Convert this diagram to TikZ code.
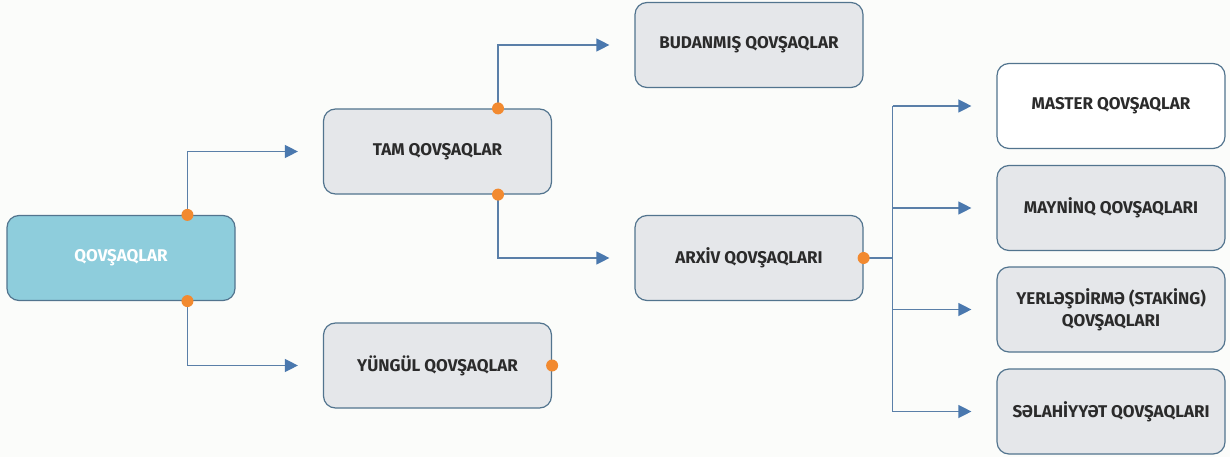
\documentclass[tikz,border=0pt]{standalone}
\usepackage{fontspec}
\setmainfont{Fira Sans}
\usetikzlibrary{arrows.meta,calc}
\definecolor{bgc}{HTML}{FBFCFA}
\definecolor{boxgray}{HTML}{E5E7EA}
\definecolor{boxline}{HTML}{52748E}
\definecolor{rootfill}{HTML}{8ECDDC}
\definecolor{linkc}{HTML}{5A7FA8}
\definecolor{tipc}{HTML}{4A78AE}
\definecolor{dotc}{HTML}{F28A30}
\definecolor{txt}{HTML}{2B2B2B}
\tikzset{
  box/.style={draw=boxline, line width=1.2pt, rounded corners=12pt, fill=boxgray,
    minimum width=228pt, minimum height=85pt, inner sep=0pt, align=center,
    text=txt, font=\fontsize{17}{22}\selectfont\bfseries},
  rootbox/.style={box, fill=rootfill, text=white},
  whitebox/.style={box, fill=white},
  link/.style={draw=linkc, line width=1.3pt},
  arrowlink/.style={link, -{Triangle[length=13pt,width=13pt,fill=tipc,color=tipc]}, shorten >=25pt},
  joint/.style={circle, fill=dotc, minimum size=12pt, inner sep=0pt},
}
\begin{document}
\begin{tikzpicture}[x=1pt,y=-1pt]
\useasboundingbox[fill=bgc] (0,0) rectangle (1230,457);

% boxes
\node[rootbox] (root) at (121,258) {QOVŞAQLAR};
\node[box] (tam) at (437.5,151.5) {TAM QOVŞAQLAR};
\node[box] (yungul) at (437.5,365.5) {YÜNGÜL QOVŞAQLAR};
\node[box] (budan) at (749,45) {BUDANMIŞ QOVŞAQLAR};
\node[box] (arxiv) at (749,258) {ARXİV QOVŞAQLARI};
\node[whitebox] (master) at (1111,106) {MASTER QOVŞAQLAR};
\node[box] (mayninq) at (1111,208) {MAYNİNQ QOVŞAQLARI};
\node[box] (yerles) at (1111,309.5) {YERLƏŞDİRMƏ (STAKİNG)\\QOVŞAQLARI};
\node[box] (selah) at (1111,411.5) {SƏLAHİYYƏT QOVŞAQLARI};

% connection points
\coordinate (rtop) at ($(root.north west)!0.79!(root.north east)$);
\coordinate (rbot) at ($(root.south west)!0.79!(root.south east)$);
\coordinate (ttop) at ($(tam.north west)!0.764!(tam.north east)$);
\coordinate (tbot) at ($(tam.south west)!0.764!(tam.south east)$);
\coordinate (bus) at ($(arxiv.east)+(29,0)$);

% connectors
\draw[arrowlink] (rtop) |- (tam.west);
\draw[arrowlink] (rbot) |- (yungul.west);
\draw[arrowlink] (ttop) |- (budan.west);
\draw[arrowlink] (tbot) |- (arxiv.west);
\draw[link] (arxiv.east) -- (bus);
\draw[link] (bus |- master.west) -- (bus |- selah.west);
\draw[arrowlink] (bus |- master.west) -- (master.west);
\draw[arrowlink] (bus |- mayninq.west) -- (mayninq.west);
\draw[arrowlink] (bus |- yerles.west) -- (yerles.west);
\draw[arrowlink] (bus |- selah.west) -- (selah.west);

% joints
\node[joint] (j1) at (rtop) {};
\node[joint] (j2) at (rbot) {};
\node[joint] (j3) at (ttop) {};
\node[joint] (j4) at (tbot) {};
\node[joint] (j5) at (yungul.east) {};
\node[joint] (j6) at (arxiv.east) {};
\end{tikzpicture}
\end{document}
